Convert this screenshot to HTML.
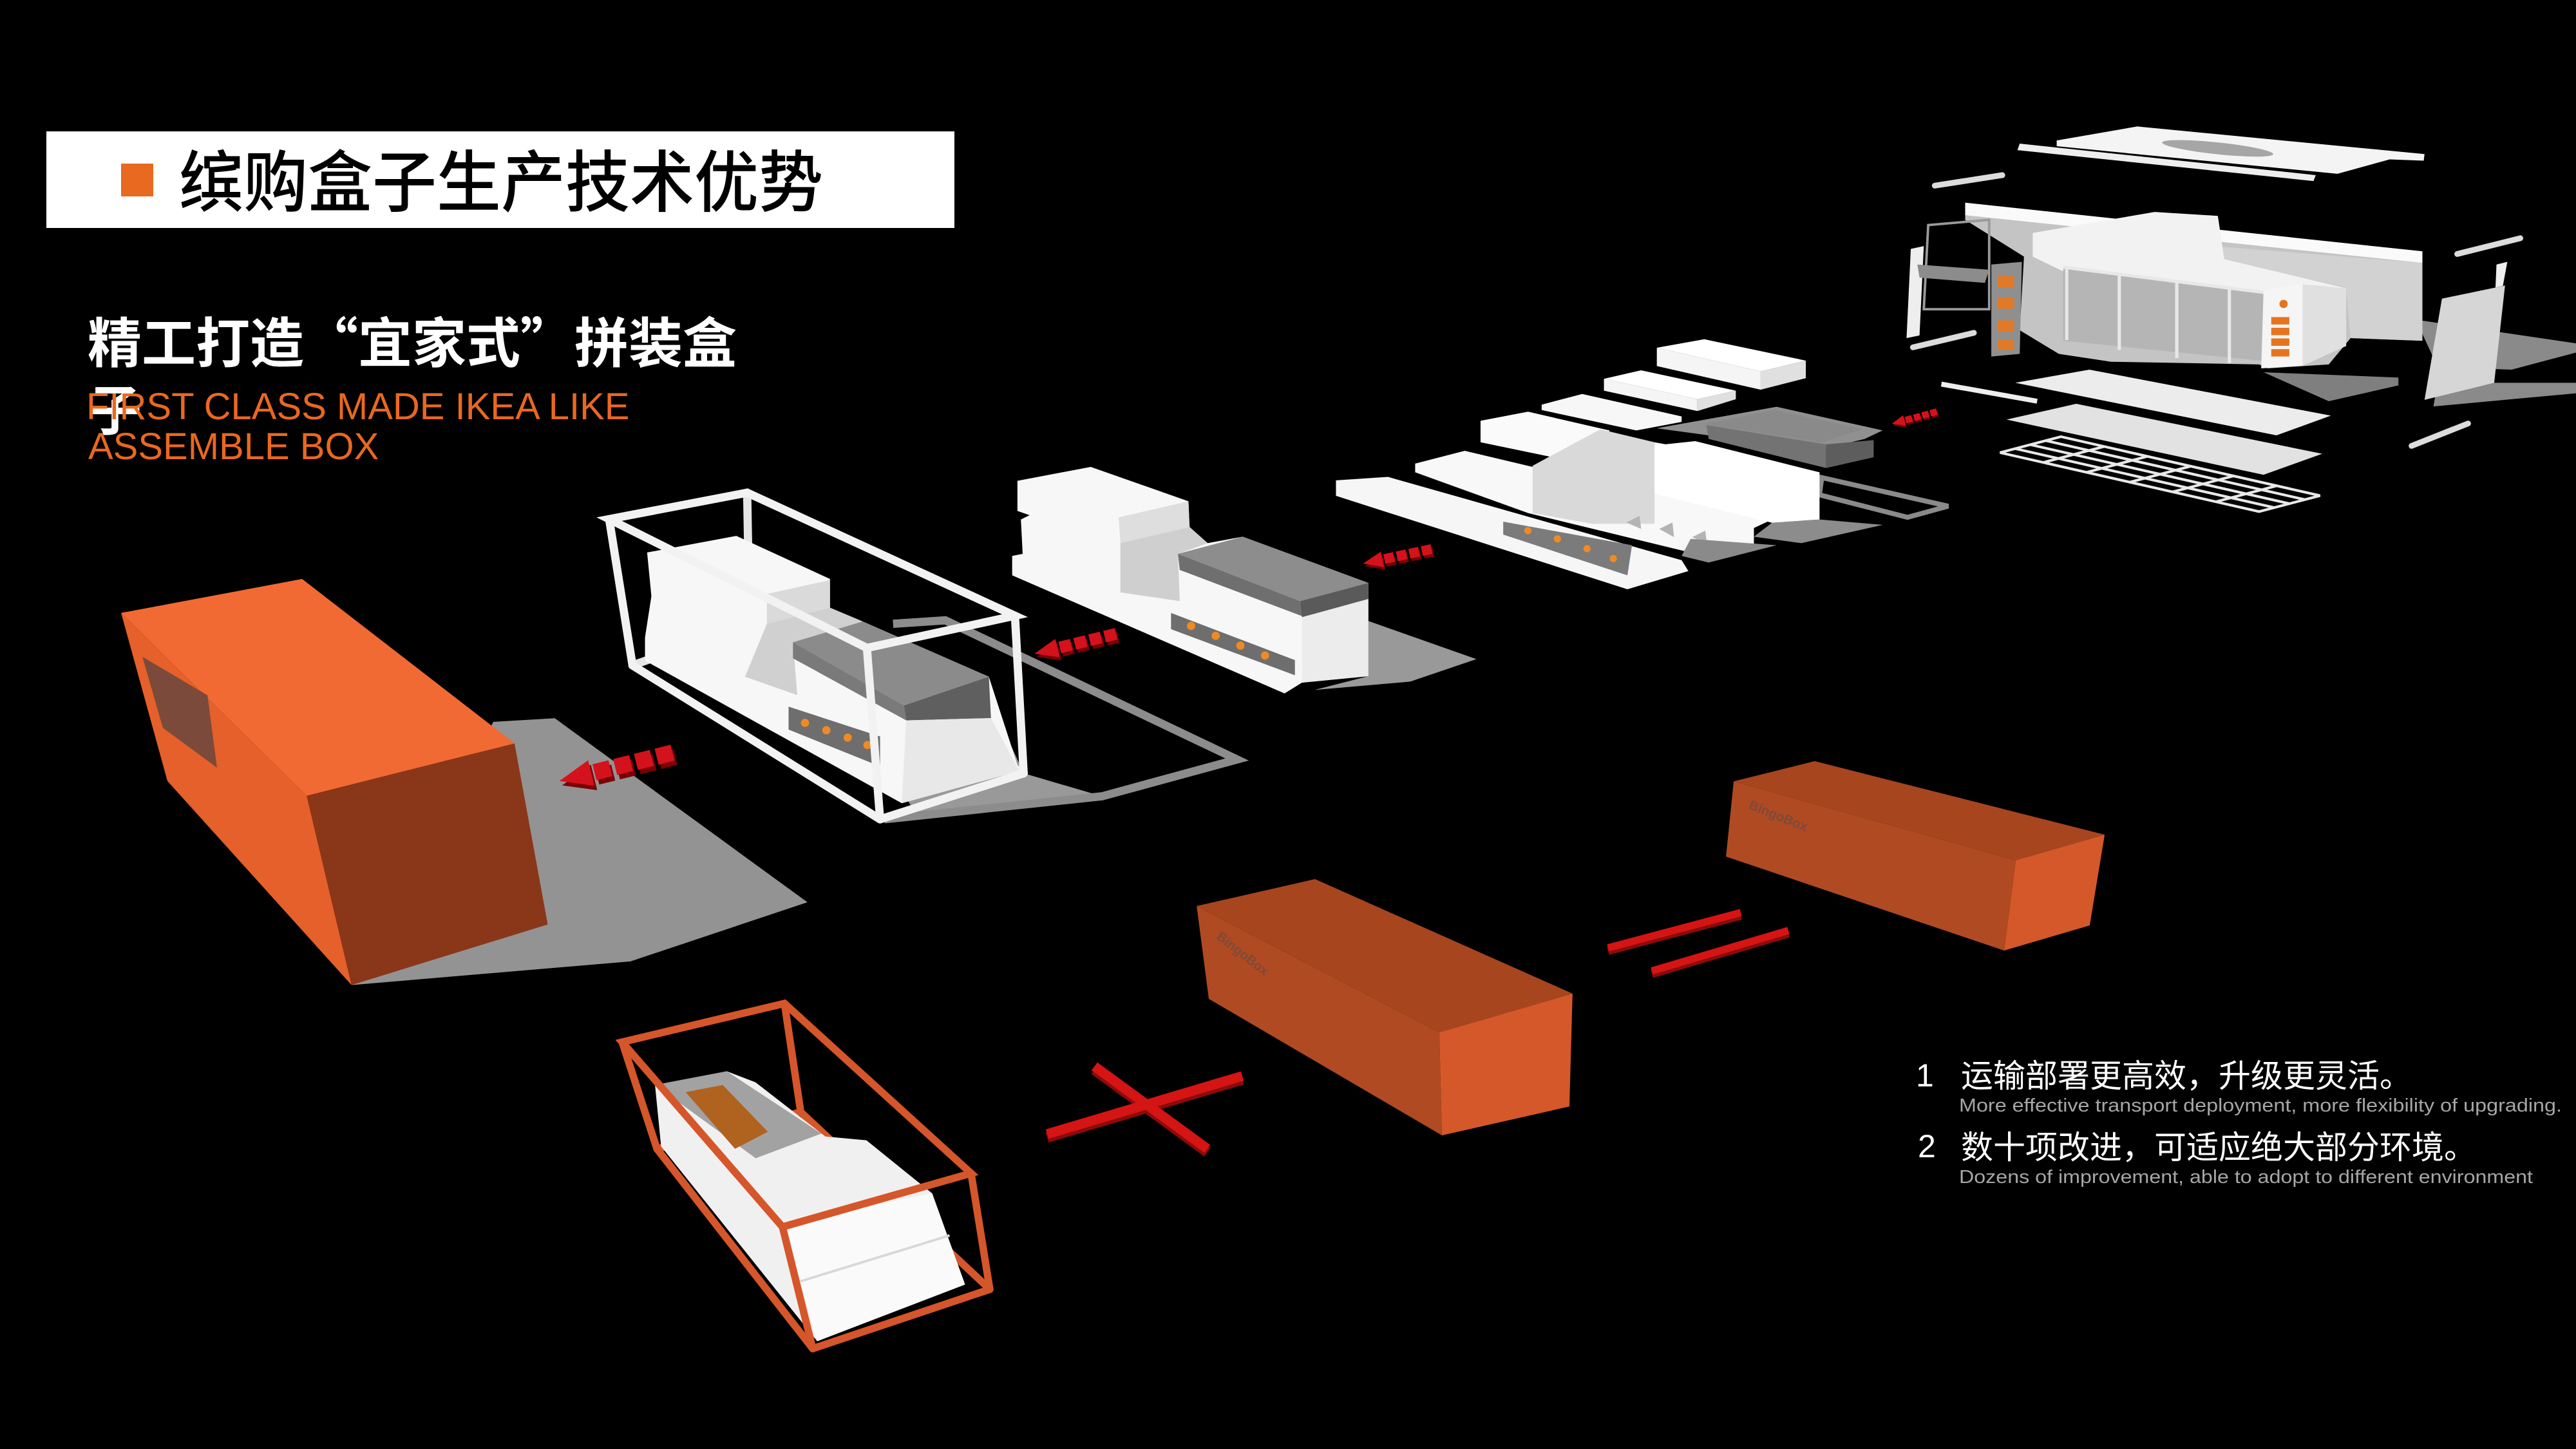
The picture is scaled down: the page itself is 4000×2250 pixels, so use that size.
<!DOCTYPE html>
<html><head><meta charset="utf-8">
<style>
html,body{margin:0;padding:0;background:#000;}
body{width:4000px;height:2250px;overflow:hidden;position:relative;}
svg{position:absolute;left:0;top:0;display:block;}
</style></head><body>
<svg width="4000" height="2250" viewBox="0 0 4000 2250" xmlns="http://www.w3.org/2000/svg">
<defs>
<g id="ah"><polygon points="0,0 20,-8 20,8"/><rect x="22" y="-5" width="10" height="10"/><rect x="35" y="-5" width="10" height="10"/><rect x="48" y="-5" width="10" height="10"/><rect x="61" y="-5" width="10" height="10"/></g>
</defs>
<rect width="4000" height="2250" fill="#000"/>
<g transform="scale(2.55102)">

<!-- ===== TOP RIGHT STORE ===== -->
<polygon points="1470.5,194.6 1568,209 1568,214.6 1528.8,225 1483.8,223.4" fill="#8a8a8a"/>
<polygon points="1483.8,233 1568,233 1568,239.4 1481.2,247.4" fill="#8a8a8a"/>
<polygon points="1377.8,226.6 1459.9,229.8 1459.9,234.6 1417.5,244.2" fill="#7f7f7f"/>
<polygon points="1251.9,85.5 1300.9,77 1475.8,93.8 1475.3,97.8 1454.6,97 1422.8,105.8 1251.9,89" fill="#f4f4f4"/>
<ellipse cx="1349.9" cy="90.3" rx="34" ry="3.6" fill="#a6a6a6" transform="rotate(6 1349.9 90.3)"/>
<polygon points="1229.4,87.4 1409.6,106.6 1408.2,110.2 1228,91.4" fill="#eeeeee"/>
<g stroke="#dcdcdc" stroke-width="3.5" stroke-linecap="round">
<line x1="1177.7" y1="113" x2="1218.8" y2="106.6"/>
<line x1="1495.7" y1="154.6" x2="1534.1" y2="145"/>
<line x1="1467.9" y1="271.4" x2="1502.3" y2="257.8"/>
<line x1="1164.4" y1="211.4" x2="1201.5" y2="202.6"/>
</g>
<polygon points="1196.2,123.4 1474.5,153 1474.5,207.4 1430.8,205.8 1417.5,221.8 1380.4,224.2 1375.1,221.8 1285,220.2 1253.2,215.4 1229.4,201 1232,156.2 1196.2,133.8" fill="#c4c4c4"/>
<polygon points="1350,150 1474.5,160 1474.5,207.4 1430.8,205.8 1428,175 1354,158" fill="#d2d2d2"/>
<polygon points="1196.2,123.4 1474.5,153 1474.5,160 1196.2,131" fill="#fafafa"/>
<polygon points="1237.3,141.8 1311.5,129 1350,131.4 1353.9,157.8 1428.1,175.4 1383.1,178.6 1263.8,169 1237.3,156.2" fill="#f2f2f2"/>
<polygon points="1255.9,162.6 1383.1,178.6 1383.1,220.2 1255.9,207.4" fill="#b5b5b5"/>
<g stroke="#e8e8e8" stroke-width="2">
<line x1="1258" y1="163" x2="1258" y2="207"/>
<line x1="1290" y1="167" x2="1290" y2="213"/>
<line x1="1325" y1="171" x2="1325" y2="218"/>
<line x1="1357" y1="175" x2="1357" y2="221"/>
<line x1="1255.9" y1="162.6" x2="1383.1" y2="178.6"/>
</g>
<polygon points="1401.6,173 1428.1,175.4 1428.1,210.6 1401.6,222.6" fill="#e0e0e0"/>
<polygon points="1377.8,177 1401.6,172.2 1401.6,222.6 1376.4,224.2" fill="#f5f5f5"/>
<g fill="#e8731e"><rect x="1382.5" y="193" width="11" height="4.5"/><rect x="1382.5" y="199.5" width="11" height="4.5"/><rect x="1382.5" y="206" width="11" height="4.5"/><rect x="1382.5" y="212.5" width="11" height="4.5"/><circle cx="1390" cy="185" r="2.5"/></g>
<polygon points="1212.1,161 1230.7,159.4 1229.4,215.4 1212.1,217" fill="#8f8f8f"/>
<g fill="#e07a28"><rect x="1216" y="168" width="10" height="7"/><rect x="1216" y="181" width="10" height="7"/><rect x="1216" y="195" width="10" height="7"/><rect x="1216" y="207" width="10" height="6"/></g>
<polygon points="1173.7,137 1210.8,133.8 1210.8,188.2 1171,188.2" fill="none" stroke="#9a9a9a" stroke-width="1.5"/>
<polygon points="1163.1,151.5 1171,149.8 1168.4,204.2 1160.5,205.8" fill="#eeeeee"/>
<polygon points="1167.1,161 1210.8,164.2 1208.2,172.2 1168.4,169" fill="#8c8c8c"/>
<polygon points="1486.4,181.8 1524.8,173.8 1518.2,233 1475.8,243.4" fill="#d6d6d6"/>
<polygon points="1519.6,161 1526.2,159.4 1523.5,174 1519,175" fill="#f0f0f0"/>
<polygon points="1226.7,233 1271.8,225 1418.8,253 1385.7,265" fill="#ececec"/>
<line x1="1181.7" y1="233.8" x2="1240" y2="244.2" stroke="#eeeeee" stroke-width="3"/>
<polygon points="1221.4,255.4 1263.8,245.8 1413.5,276.2 1377.8,289" fill="#e2e2e2"/>
<g stroke="#e8e8e8" stroke-width="1.6" fill="none">
<polygon points="1217.4,275.5 1254.5,265.8 1412.2,301.7 1375.1,311.4"/>
<line x1="1226.7" y1="273.1" x2="1384.4" y2="309"/>
<line x1="1236" y1="270.7" x2="1393.7" y2="306.6"/>
<line x1="1245.2" y1="268.2" x2="1402.9" y2="304.1"/>
<line x1="1243.7" y1="281.5" x2="1280.8" y2="271.8"/>
<line x1="1270" y1="287.5" x2="1307.1" y2="277.8"/>
<line x1="1296.3" y1="293.5" x2="1333.4" y2="283.8"/>
<line x1="1322.5" y1="299.4" x2="1359.6" y2="289.7"/>
<line x1="1348.8" y1="305.4" x2="1385.9" y2="295.7"/>
</g>

<!-- ===== EXPLODED PARTS ===== -->
<polygon points="1078.6,318.2 1107.5,316.2 1146,319.5 1096.5,330.6 1067.6,326.7" fill="#8c8c8c"/>
<polygon points="1108.9,290.7 1185.9,308.1 1161.1,314.9 1107.5,301.2" fill="none" stroke="#8a8a8a" stroke-width="3"/>
<polygon points="1008.4,260.7 1081.4,247.6 1146,262 1135,267.2 1110.2,273.1 1040,265" fill="#909090"/>
<polygon points="1037.4,258.1 1080,249.6 1133.6,261.3 1108.9,269.2" fill="#8a8a8a"/>
<polygon points="1038.7,258.7 1111.6,270.5 1111.6,284.9 1040.1,267.2" fill="#737373"/>
<polygon points="1111.6,270.5 1140.5,267.9 1140.5,278.3 1111.6,284.9" fill="#5d5d5d"/>
<polygon points="1008.5,211.7 1037.4,206.5 1099.2,219.5 1071.7,226.1" fill="#ffffff"/>
<polygon points="1071.7,226.1 1099.2,219.5 1099.2,230.2 1071.7,237.2" fill="#e0e0e0"/>
<polygon points="1008.5,211.7 1071.7,226.1 1071.7,237.2 1008.5,222.8" fill="#f5f5f5"/>
<polygon points="976.3,230.6 998.9,225.4 1056.6,237.8 1033.2,243" fill="#ffffff"/>
<polygon points="1033.2,243 1056.6,237.8 1056.6,243 1033.2,250.2" fill="#e0e0e0"/>
<polygon points="976.3,230.6 1033.2,243 1033.2,250.2 976.3,237.8" fill="#f5f5f5"/>
<polygon points="938.4,246.3 963.1,239.8 1023.6,253.5 1023.6,256.8 996.1,262 938.4,249.6" fill="#f7f7f7"/>
<polygon points="901.2,256.1 930.1,250.6 979.6,262 979.6,277 957.6,280.9 901.2,269.2" fill="#fafafa"/>
<polygon points="861.4,282.2 891.6,274.4 957.6,290.1 1007.1,269.2 1107.5,287.5 1107.5,316.2 1075.9,317.5 1067.6,321.4 1067.6,334.5 1037.4,338.4 930.1,312.3 861.4,287.5" fill="#f8f8f8"/>
<polygon points="932.9,283.5 974.1,261.3 1007.1,269.2 1007.1,318.8 968.6,318.8 932.9,312.3" fill="#d9d9d9"/>
<polygon points="1007.1,271.1 1031.9,268.5 1107.5,287.5 1107.5,316.2 1078.6,318.2 1007.1,300.5" fill="#ffffff"/>
<g fill="#b4b4b4"><polygon points="990,318 998,314 999,322"/><polygon points="1010,322 1018,318 1019,327"/><polygon points="1030,327 1038,323 1039,331"/></g>
<polygon points="1029.1,328 1081.4,331.9 1040.1,342.4 1023.6,338.4" fill="#8a8a8a"/>
<polygon points="813.2,292.4 844.9,290.3 1023.6,341 1027.7,347.6 990.6,358.7 813.2,301.8" fill="#f6f6f6"/>
<polygon points="915,317.5 993.4,331.9 990.6,350.2 915,325.4" fill="#7b7b7b"/>
<g fill="#f08a24"><circle cx="930" cy="323" r="2.2"/><circle cx="948" cy="328" r="2.2"/><circle cx="966" cy="334" r="2.2"/><circle cx="982" cy="340" r="2.2"/></g>

<!-- ===== MODULE 2 ===== -->
<polygon points="832.9,378 898.7,401.2 858.4,414.9 800,420 832.9,411.6" fill="#999999"/>
<polygon points="619.3,292.7 663.9,284.2 723.4,305.1 724.1,320.8 735.1,330.6 756.4,326.7 832.9,354.8 832.9,411.6 792.5,415.5 781.9,422.1 616.1,350.2 616.1,338.4 622.5,337.1 621.4,316.2 626.7,313.6 619.3,311" fill="#f7f7f7"/>
<polygon points="680.9,314.9 723.4,305.1 724.1,320.8 682,330.6" fill="#dedede"/>
<polygon points="682,330.6 724.1,320.8 735.1,330.6 717,337.1 718.1,365.9 682,360.6" fill="#cfcfcf"/>
<polygon points="717,337.1 756.4,326.7 832.9,354.8 791.4,365.9" fill="#8d8d8d"/>
<polygon points="717,337.1 791.4,365.9 792.5,375 718.1,346.9" fill="#6f6f6f"/>
<polygon points="791.4,365.9 832.9,354.8 832.9,364.6 792.5,375.7" fill="#5a5a5a"/>
<polygon points="792.5,375.7 832.9,364.6 832.9,411.6 792.5,415.5" fill="#ececec"/>
<polygon points="712.8,373.1 788.2,401.8 788.2,411 712.8,383" fill="#6e6e6e"/>
<g fill="#f08a24"><circle cx="725" cy="381" r="2.5"/><circle cx="740" cy="387" r="2.5"/><circle cx="755" cy="393" r="2.5"/><circle cx="770" cy="399" r="2.5"/></g>

<!-- ===== WHITE FRAME CONTAINER ===== -->
<polygon points="604.6,430.1 623.1,470.7 670.8,484.7 556.9,494.5 543.6,472.1" fill="#999999"/>
<polyline points="543.6,379.7 575.4,377.6 753,462.3 670.8,484.7 538.3,498.7" fill="none" stroke="#8c8c8c" stroke-width="5"/>
<g stroke="#e6e6e6" stroke-width="5" stroke-linecap="round">
<line x1="454.8" y1="299.9" x2="456.2" y2="379.7"/>
<line x1="385" y1="405" x2="456.2" y2="379.7"/>
<line x1="456.2" y1="379.7" x2="623.1" y2="470.7"/>
</g>
<polygon points="393.9,336.3 448.2,326.2 505.2,352.4 505.2,369.9 525.1,378.3 601.9,411.9 620.5,469.3 548.9,488.9 392.6,402.1 392.6,388.1 396.5,362.9" fill="#f7f7f7"/>
<polygon points="466.8,361.5 505.2,353.1 505.2,369.9 466.8,379.7" fill="#dadada"/>
<polygon points="466.8,379.7 505.2,369.9 525.1,378.3 482.7,390.9 485.3,423.1 453.5,411.9" fill="#d0d0d0"/>
<polygon points="482.7,390.9 525.1,378.3 601.9,411.9 550.2,429.4" fill="#8b8b8b"/>
<polygon points="482.7,390.9 550.2,429.4 551.6,438.5 482.7,400.7" fill="#7a7a7a"/>
<polygon points="550.2,429.4 601.9,411.9 603.2,437.1 551.6,438.5" fill="#5f5f5f"/>
<polygon points="551.6,438.5 603.2,437.1 620.5,469.3 548.9,488.9" fill="#e8e8e8"/>
<polygon points="480,430.1 535.7,448.3 535.7,466.5 480,444.1" fill="#6e6e6e"/>
<g fill="#f08a24"><circle cx="490" cy="440" r="2.5"/><circle cx="503" cy="444.5" r="2.5"/><circle cx="516" cy="449" r="2.5"/><circle cx="528" cy="453.5" r="2.5"/></g>
<g stroke="#f2f2f2" stroke-width="5" stroke-linecap="round" fill="none">
<polygon points="370.8,316 454.8,299.9 617.8,374.8 527.7,394.4"/>
<line x1="370.8" y1="316" x2="385" y2="405"/>
<line x1="617.8" y1="374.8" x2="623.1" y2="470.7"/>
<line x1="527.7" y1="394.4" x2="535.7" y2="498.7"/>
<line x1="385" y1="405" x2="535.7" y2="498.7"/>
<line x1="535.7" y1="498.7" x2="623.1" y2="470.7"/>
</g>

<!-- ===== BIG ORANGE BOX ===== -->
<polygon points="300.3,439.4 337.7,437.2 491.5,549.2 383.7,585.2 214,599.6" fill="#939393"/>
<polygon points="73.7,373.1 186.7,484.4 214,599.6 101.9,475.4" fill="#e5602a"/>
<polygon points="73.7,373.1 183.9,352.4 313.2,452.5 186.7,484.4" fill="#f26a33"/>
<polygon points="186.7,484.4 313.2,452.5 333.4,562.7 214,599.6" fill="#8a3719"/>
<polygon points="86.7,399.8 126.3,423.2 132.1,467.3 99.1,443" fill="#7c4a3a"/>

<!-- ===== ARROWS ===== -->
<g transform="translate(340.5,475.4) rotate(-14.05)"><use href="#ah" fill="#7a0006" transform="translate(1,3)"/><use href="#ah" fill="#d4121c"/></g>
<g transform="translate(629.7,397.9) rotate(-13.7) scale(0.72)"><use href="#ah" fill="#7a0006" transform="translate(1,3)"/><use href="#ah" fill="#d4121c"/></g>
<g transform="translate(829.7,343) rotate(-11.9) scale(0.6)"><use href="#ah" fill="#7a0006" transform="translate(1,3)"/><use href="#ah" fill="#d4121c"/></g>
<g transform="translate(1151.5,258) rotate(-15.2) scale(0.4)"><use href="#ah" fill="#7a0006" transform="translate(1,3)"/><use href="#ah" fill="#d4121c"/></g>

<!-- ===== ORANGE FRAME (bottom left) ===== -->
<g stroke="#d5562a" stroke-width="4.5" stroke-linecap="round">
<line x1="477.5" y1="610.8" x2="487.4" y2="676.9"/>
<line x1="399.9" y1="699.3" x2="487.4" y2="676.9"/>
<line x1="487.4" y1="676.9" x2="602.5" y2="784.8"/>
</g>
<polygon points="398.7,660.4 442.4,652.1 459.9,658.8 502.4,691.8 527.4,694.1 567.4,726.4 587.4,781.9 497.4,816.4 402.4,697.8" fill="#f0f0f0"/>
<polygon points="398.7,660.4 442.4,652.1 500,690 460,705" fill="#a2a2a2"/>
<polygon points="417.4,664.8 439.9,660.4 467.4,688.9 447.4,699.3" fill="#b0631e"/>
<polygon points="477,745 567.4,726.4 587.4,781.9 497.4,816.4" fill="#fafafa"/>
<line x1="487" y1="780" x2="578" y2="752" stroke="#d8d8d8" stroke-width="1.5"/>
<g stroke="#d5562a" stroke-width="4.5" stroke-linecap="round" fill="none">
<polygon points="378.7,634.3 477.5,610.8 591.1,714.2 476.3,746.8"/>
<line x1="378.7" y1="634.3" x2="399.9" y2="699.3"/>
<line x1="591.1" y1="714.2" x2="602.5" y2="784.8"/>
<line x1="476.3" y1="746.8" x2="494.7" y2="820.9"/>
<line x1="399.9" y1="699.3" x2="494.7" y2="820.9"/>
<line x1="494.7" y1="820.9" x2="602.5" y2="784.8"/>
</g>

<!-- ===== RED CROSS & BARS ===== -->
<g stroke="#8e0a0a" stroke-width="6.5"><line x1="666.2" y1="651.1" x2="734.9" y2="701.3"/><line x1="637.4" y1="692.3" x2="756.2" y2="657"/></g>
<g stroke="#d51414" stroke-width="6"><line x1="666.2" y1="649.1" x2="734.9" y2="699.3"/><line x1="637.4" y1="690.3" x2="756.2" y2="655"/></g>
<g stroke="#8e0a0a" stroke-width="5"><line x1="978.8" y1="578.8" x2="1059.6" y2="557.3"/><line x1="1005.5" y1="592.8" x2="1088.6" y2="568.2"/></g>
<g stroke="#d51414" stroke-width="4.5"><line x1="978.8" y1="577" x2="1059.6" y2="555.5"/><line x1="1005.5" y1="591" x2="1088.6" y2="566.4"/></g>

<!-- ===== MIDDLE ORANGE BOX ===== -->
<polygon points="728.4,551.5 876.1,628.4 877.7,691.1 735.8,608" fill="#b04a22"/>
<polygon points="728.4,551.5 800.4,535.1 957.2,604.8 876.1,628.4" fill="#a7451f"/>
<polygon points="876.1,628.4 957.2,604.8 955.3,673.5 877.7,691.1" fill="#d4582a"/>
<text x="0" y="0" transform="translate(740,571) rotate(38)" font-family="'Liberation Sans',sans-serif" font-weight="bold" font-size="8" fill="#7d4a3a">BingoBox</text>

<!-- ===== RIGHT ORANGE BOX ===== -->
<polygon points="1055.3,475.6 1227,523.6 1219.9,578.6 1050.6,521.4" fill="#b04a22"/>
<polygon points="1055.3,475.6 1104.6,463.3 1281.1,508.1 1227,523.6" fill="#a7451f"/>
<polygon points="1227,523.6 1281.1,508.1 1272,563.3 1219.9,578.6" fill="#d4582a"/>
<text x="0" y="0" transform="translate(1064,492) rotate(22)" font-family="'Liberation Sans',sans-serif" font-weight="bold" font-size="8" fill="#7d4a3a">BingoBox</text>
</g>

<!-- ===== TEXT ===== -->
<rect x="72" y="204" width="1410" height="150" fill="#ffffff"/>
<rect x="188" y="254" width="50" height="51" fill="#e8691f"/>
<text x="278" y="320" font-family="'Liberation Sans','Noto Sans CJK SC',sans-serif" font-size="104" font-weight="500" textLength="1000" lengthAdjust="spacingAndGlyphs" fill="#000">缤购盒子生产技术优势</text>

<g font-family="'Liberation Sans','Noto Sans CJK SC',sans-serif" font-size="84" font-weight="bold" fill="#ffffff">
<text x="136" y="563">精工打造</text>
<text x="472" y="563" font-family="'Noto Sans CJK SC',sans-serif">“</text>
<text x="556" y="563">宜家式</text>
<text x="808" y="563" font-family="'Noto Sans CJK SC',sans-serif">”</text>
<text x="892" y="563">拼装盒</text>
<text x="136" y="668">子</text>
</g>
<g font-family="'Liberation Sans',sans-serif" font-size="58" fill="#e9681f">
<text x="134" y="651">FIRST CLASS MADE IKEA LIKE</text>
<text x="137" y="713">ASSEMBLE BOX</text>
</g>

<g font-family="'Liberation Sans','Noto Sans CJK SC',sans-serif" fill="#ffffff" font-size="50">
<text x="2975" y="1687">1</text>
<text x="3045" y="1688">运输部署更高效，升级更灵活。</text>
<text x="2978" y="1797">2</text>
<text x="3045" y="1799">数十项改进，可适应绝大部分环境。</text>
</g>
<g font-family="'Liberation Sans',sans-serif" fill="#a6a6a6" font-size="29">
<text x="3042" y="1726" textLength="936" lengthAdjust="spacingAndGlyphs">More effective transport deployment, more flexibility of upgrading.</text>
<text x="3042" y="1837" textLength="891" lengthAdjust="spacingAndGlyphs">Dozens of improvement, able to adopt to different environment</text>
</g>
</svg>
</body></html>
